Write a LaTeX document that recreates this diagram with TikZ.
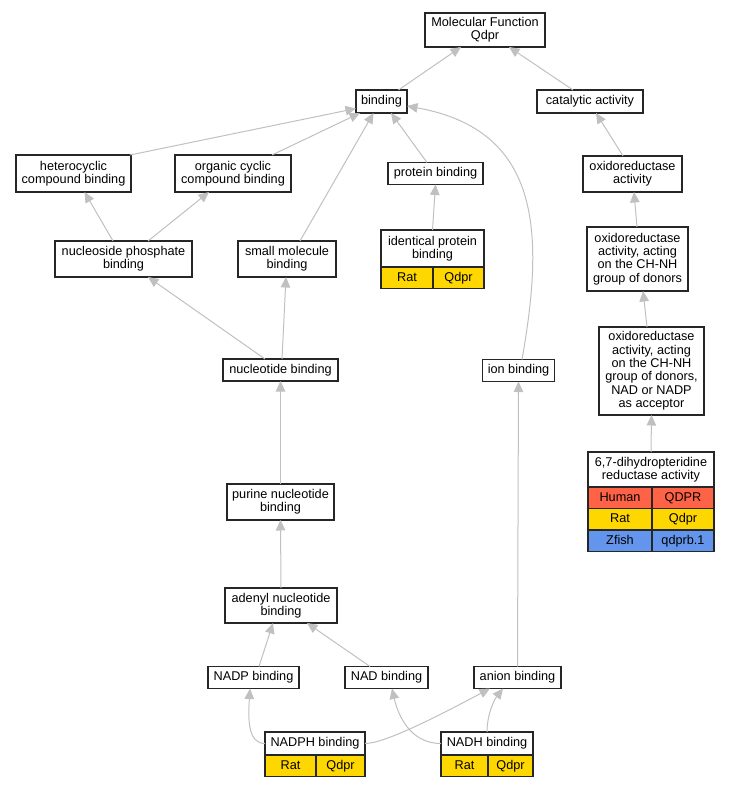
\documentclass[tikz,border=0pt]{standalone}
\usepackage{fontspec}
\setmainfont{Liberation Sans}
\usetikzlibrary{positioning,arrows.meta}
\usepackage{xcolor}
\definecolor{edgegray}{RGB}{192,192,192}
\definecolor{ratgold}{RGB}{255,215,0}
\definecolor{humantomato}{RGB}{255,99,71}
\definecolor{fishblue}{RGB}{100,149,237}

\begin{document}
\begin{tikzpicture}
[
    x=1pt,y=-1pt,
    mybox/.style={rectangle,outer sep=0pt,inner sep=1pt,align=center,draw=black!85,line width=1.1pt,font=\fontsize{12.7}{13.4}\selectfont},
    term/.style={mybox,fill=white,minimum height=22pt},
    cell/.style={mybox,minimum height=21.5pt,text height=9.2pt,text depth=2.6pt},
    rat/.style={cell,fill=ratgold},
    human/.style={cell,fill=humantomato},
    zfish/.style={cell,fill=fishblue},
    isa/.style={draw=edgegray,line width=1pt,-{Triangle[length=10.5pt,width=9.5pt]}}
]
\useasboundingbox (0,0) rectangle (729,787);

\node (mf) at (485,30) [term,minimum width=120pt,minimum height=34pt] {Molecular Function\\Qdpr};
\node (bind) at (381.5,101.5) [term,minimum width=51pt,minimum height=23pt] {binding};
\node (cat) at (590,101.5) [term,minimum width=106pt,minimum height=23pt] {catalytic activity};

\node (hetero) at (73.5,173.5) [term,minimum width=115pt,minimum height=37pt] {heterocyclic\\compound binding};
\node (organic) at (233,173.5) [term,minimum width=116pt,minimum height=37pt] {organic cyclic\\compound binding};
\node (prot) at (435.5,173.5) [term,minimum width=95pt] {protein binding};
\node (oxact) at (632.5,174) [term,minimum width=99pt,minimum height=36pt] {oxidoreductase\\activity};

\node (idprot) at (432.5,248.5) [term,minimum width=103pt,minimum height=37pt] {identical protein\\binding};
\node (idprotA) at (idprot.south west) [rat,anchor=north west,minimum width=52pt] {Rat};
\node (idprotB) at (idprot.south east) [rat,anchor=north east,minimum width=51pt] {Qdpr};

\node (nucphos) at (123.5,259) [term,minimum width=137pt,minimum height=36pt] {nucleoside phosphate\\binding};
\node (small) at (287,259) [term,minimum width=98pt,minimum height=36pt] {small molecule\\binding};
\node (chnh) at (637.5,259) [term,minimum width=101pt,minimum height=64pt] {oxidoreductase\\activity, acting\\on the CH-NH\\group of donors};

\node (nucl) at (280.5,370) [term,minimum width=115pt] {nucleotide binding};
\node (ion) at (518.5,370.5) [term,minimum width=72pt] {ion binding};
\node (acc) at (651.5,371) [term,minimum width=105pt,minimum height=88pt] {oxidoreductase\\activity, acting\\on the CH-NH\\group of donors,\\NAD or NADP\\as acceptor};

\node (dhpr) at (651,469.5) [term,minimum width=126pt,minimum height=35pt] {6,7-dihydropteridine\\reductase activity};
\node (dhprA) at (dhpr.south west) [human,anchor=north west,minimum width=64pt] {Human};
\node (dhprB) at (dhpr.south east) [human,anchor=north east,minimum width=62pt] {QDPR};
\node (dhprC) at (dhprA.south west) [rat,anchor=north west,minimum width=64pt] {Rat};
\node (dhprD) at (dhprB.south east) [rat,anchor=north east,minimum width=62pt] {Qdpr};
\node (dhprE) at (dhprC.south west) [zfish,anchor=north west,minimum width=64pt] {Zfish};
\node (dhprF) at (dhprD.south east) [zfish,anchor=north east,minimum width=62pt] {qdprb.1};

\node (purine) at (280.5,502) [term,minimum width=107pt,minimum height=36pt] {purine nucleotide\\binding};
\node (adenyl) at (281,605.5) [term,minimum width=112pt,minimum height=35pt] {adenyl nucleotide\\binding};

\node (nadp) at (253.5,677.5) [term,minimum width=91pt] {NADP binding};
\node (nad) at (386.5,677.5) [term,minimum width=83pt] {NAD binding};
\node (anion) at (517.5,677.5) [term,minimum width=87pt] {anion binding};

\node (nadph) at (315,743.5) [term,minimum width=100pt,minimum height=23pt] {NADPH binding};
\node (nadphA) at (nadph.south west) [rat,anchor=north west,minimum width=51pt] {Rat};
\node (nadphB) at (nadph.south east) [rat,anchor=north east,minimum width=49pt] {Qdpr};
\node (nadh) at (487,743.5) [term,minimum width=92pt,minimum height=23pt] {NADH binding};
\node (nadhA) at (nadh.south west) [rat,anchor=north west,minimum width=47pt] {Rat};
\node (nadhB) at (nadh.south east) [rat,anchor=north east,minimum width=45pt] {Qdpr};

% is_a edges, child to parent
\draw[isa] ([xshift=17pt]bind.north) -- ([xshift=-24pt]mf.south);
\draw[isa] ([xshift=-17pt]cat.north) -- ([xshift=24pt]mf.south);
\draw[isa] ([xshift=-1pt]hetero.north east) -- ([yshift=-7pt]bind.west);
\draw[isa] ([xshift=39pt]organic.north) -- ([xshift=4pt]bind.south west);
\draw[isa] ([xshift=13pt]small.north) -- ([xshift=-8pt]bind.south);
\draw[isa] ([xshift=-8.5pt]prot.north) -- ([xshift=9.5pt]bind.south);
\draw[isa] ([xshift=3.5pt]ion.north) .. controls (545,230) and (540,130) .. ([yshift=-4.5pt]bind.east);
\draw[isa] ([xshift=-9.5pt]oxact.north) -- ([xshift=6pt]cat.south);
\draw[isa] ([xshift=-0.5pt]chnh.north) -- ([xshift=1.5pt]oxact.south);
\draw[isa] ([xshift=-4.5pt]acc.north) -- ([xshift=5.5pt]chnh.south);
\draw[isa] (dhpr.north) -- (acc.south);
\draw[isa] (idprot.north) -- (prot.south);
\draw[isa] ([xshift=-10.5pt]nucphos.north) -- ([xshift=11pt]hetero.south);
\draw[isa] ([xshift=24.5pt]nucphos.north) -- ([xshift=-24pt]organic.south);
\draw[isa] ([xshift=-15.5pt]nucl.north) -- ([xshift=24.5pt]nucphos.south);
\draw[isa] ([xshift=1.5pt]nucl.north) -- ([xshift=-1pt]small.south);
\draw[isa] (purine.north) -- (nucl.south);
\draw[isa] (adenyl.north) -- (purine.south);
\draw[isa] ([xshift=5.5pt]nadp.north) -- ([xshift=-8pt]adenyl.south);
\draw[isa] ([xshift=-16.5pt]nad.north) -- ([xshift=26pt]adenyl.south);
\draw[isa] (anion.north) -- (ion.south);
\draw[isa] (nadph.west) .. controls (248,743.5) and (248,720) .. ([xshift=-3.5pt]nadp.south);
\draw[isa] (nadph.east) .. controls (385,743.5) and (440,715) .. ([xshift=-27.5pt]anion.south);
\draw[isa] (nadh.west) .. controls (410,743.5) and (398,715) .. ([xshift=5.5pt]nad.south);
\draw[isa] (nadh.north) .. controls (487,715) and (494,700) .. ([xshift=-14.5pt]anion.south);

\end{tikzpicture}
\end{document}
